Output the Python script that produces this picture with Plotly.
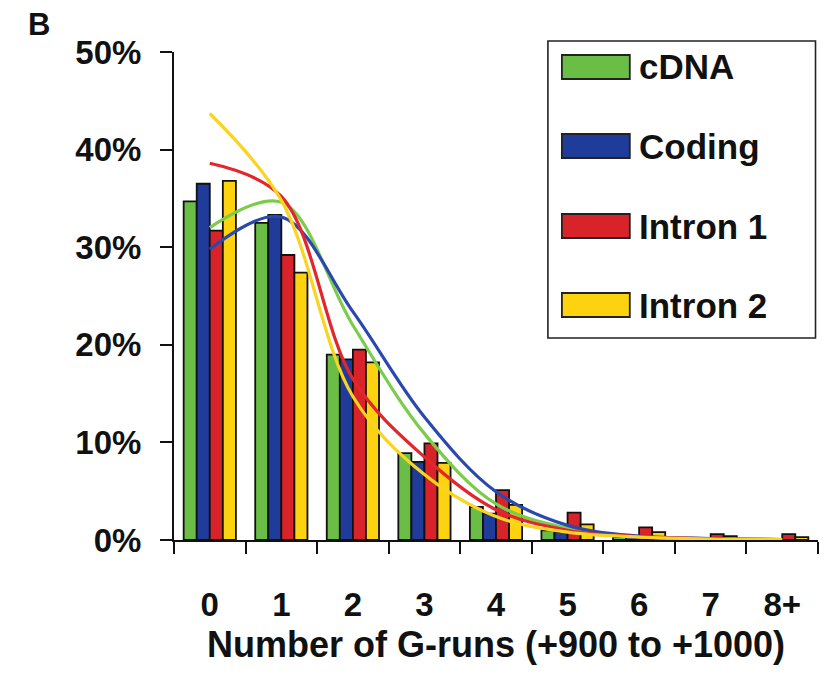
import plotly.graph_objects as go

# Share of sequences by number of G-runs in the +900..+1000 window
categories = ["0", "1", "2", "3", "4", "5", "6", "7", "8+"]
series_names = ["cDNA", "Coding", "Intron 1", "Intron 2"]

cdna_pct = [34.7, 32.5, 19.0, 8.9, 3.4, 1.0, 0.3, 0.2, 0.1]
coding_pct = [36.5, 33.3, 18.5, 8.0, 2.7, 0.8, 0.3, 0.2, 0.1]
intron1_pct = [31.7, 29.2, 19.5, 9.9, 5.1, 2.8, 1.3, 0.6, 0.6]
intron2_pct = [36.8, 27.4, 18.2, 7.9, 3.6, 1.6, 0.8, 0.4, 0.3]

# Smoothed expected distributions drawn over the bars
cdna_fit = [32.0, 34.6, 22.0, 10.9, 3.7, 1.2, 0.35, 0.12, 0.05]
coding_fit = [29.8, 33.1, 23.4, 12.6, 4.95, 1.5, 0.4, 0.15, 0.05]
intron1_fit = [38.6, 35.2, 16.5, 8.5, 3.1, 1.0, 0.35, 0.15, 0.05]
intron2_fit = [43.7, 34.8, 14.7, 6.7, 2.4, 0.8, 0.3, 0.1, 0.05]

y_ticks = [0, 10, 20, 30, 40, 50]
y_tick_text = ["0%", "10%", "20%", "30%", "40%", "50%"]

bar_colors = ["#6abd45", "#1f3c9a", "#d9232b", "#fdd20e"]
line_colors = ["#7ccc4c", "#2a48ad", "#e3262c", "#f9d420"]

FONT = "Liberation Sans, Arial, Helvetica, sans-serif"
W, H = 824, 674
L, R, T, B = 173.5, 5.5, 52, 134

fig = go.Figure()

bars = [cdna_pct, coding_pct, intron1_pct, intron2_pct]
fits = [cdna_fit, coding_fit, intron1_fit, intron2_fit]

for name, vals, col in zip(series_names, bars, bar_colors):
    fig.add_trace(go.Bar(
        x=categories, y=vals, name=name,
        marker=dict(color=col, line=dict(color="#111111", width=1.8)),
        showlegend=False,
    ))

for name, vals, col in zip(series_names, fits, line_colors):
    fig.add_trace(go.Scatter(
        x=categories, y=vals, mode="lines", name=name + " fit",
        line=dict(color=col, width=3.2, shape="spline", smoothing=1.0),
        showlegend=False,
    ))


def px_x(p):
    return (p - L) / (W - L - R)


def px_y(p):
    return (H - B - p) / (H - T - B)


# Legend panel drawn as a boxed key
shapes = [dict(type="rect", xref="paper", yref="paper",
               x0=px_x(548), x1=px_x(816), y0=px_y(338), y1=px_y(41),
               line=dict(color="#222222", width=1.6), fillcolor="white", layer="above")]
annotations = []
item_y = [67, 146, 226, 305]
for name, col, yc in zip(series_names, bar_colors, item_y):
    shapes.append(dict(type="rect", xref="paper", yref="paper",
                       x0=px_x(562), x1=px_x(630), y0=px_y(yc + 12), y1=px_y(yc - 12),
                       line=dict(color="#222222", width=1.8), fillcolor=col, layer="above"))
    annotations.append(dict(xref="paper", yref="paper", x=px_x(637), y=px_y(yc),
                            xanchor="left", yanchor="middle", showarrow=False,
                            text=name, font=dict(family=FONT, size=35, color="#111111")))

# Panel letter
annotations.append(dict(xref="paper", yref="paper", x=px_x(25), y=px_y(24),
                        xanchor="left", yanchor="middle", showarrow=False,
                        text="<b>B</b>", font=dict(family=FONT, size=31, color="#111111")))

fig.update_layout(
    width=W, height=H,
    margin=dict(l=L, r=R, t=T, b=B, pad=0),
    paper_bgcolor="white", plot_bgcolor="white",
    barmode="group", bargap=0.27, bargroupgap=0.0,
    font=dict(family=FONT, size=32, color="#111111", weight="bold"),
    shapes=shapes, annotations=annotations,
    showlegend=False,
)

fig.update_xaxes(
    type="category", tickson="boundaries",
    showline=True, linecolor="#111111", linewidth=2,
    ticks="outside", ticklen=12, tickwidth=2, tickcolor="#111111",
    ticklabelstandoff=34,
    tickfont=dict(family=FONT, size=33, weight="bold"),
    title=dict(text="Number of G-runs (+900 to +1000)", standoff=10,
               font=dict(family=FONT, size=36, weight="bold")),
    showgrid=False, zeroline=False,
)

fig.update_yaxes(
    range=[0, 50], tickvals=y_ticks, ticktext=y_tick_text,
    showline=True, linecolor="#111111", linewidth=2,
    ticks="outside", ticklen=12, tickwidth=2, tickcolor="#111111",
    ticklabelstandoff=12,
    tickfont=dict(family=FONT, size=33, weight="bold"),
    showgrid=False, zeroline=False,
)

fig.write_html("out.html")
